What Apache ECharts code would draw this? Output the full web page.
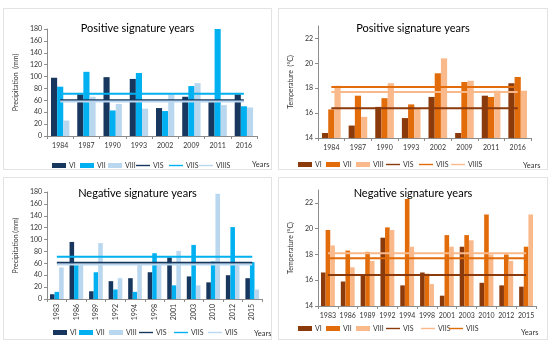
<!DOCTYPE html>
<html><head><meta charset="utf-8">
<script src="https://cdn.jsdelivr.net/npm/echarts@6/dist/echarts.min.js"></script>
<style>
html,body{margin:0;padding:0;background:#fff;width:550px;height:342px;overflow:hidden;}
.p{position:absolute;border:1px solid #e3e3e3;box-sizing:border-box;}
</style></head><body>
<div id="c1" class="p" style="left:3px;top:8px;width:269px;height:162px"></div>
<div id="c2" class="p" style="left:278px;top:8px;width:270px;height:162px"></div>
<div id="c3" class="p" style="left:3px;top:177px;width:269px;height:163px"></div>
<div id="c4" class="p" style="left:278px;top:177px;width:270px;height:163px"></div>
<script>
// ---- Data ----
const posYears = ['1984','1987','1990','1993','2002','2009','2011','2016'];
const negYears = ['1983','1986','1989','1992','1994','1998','2001','2003','2010','2012','2015'];

// Precipitation, positive signature years (mm)
const posPrecVI   = [98, 70, 99, 96, 47, 66, 57, 70];
const posPrecVII  = [83, 108, 43, 106, 42, 84, 180, 50];
const posPrecVIII = [26, 66, 54, 46, 70, 89, 52, 48];
const posPrecMeans = {VIS: 60, VIIS: 71, VIIIS: 58};

// Temperature, positive signature years (°C)
const posTempVI   = [14.4, 15.0, 16.5, 15.6, 17.3, 14.4, 17.4, 18.4];
const posTempVII  = [16.3, 17.4, 17.2, 16.7, 19.2, 18.5, 17.3, 18.9];
const posTempVIII = [18.2, 15.7, 18.4, 16.4, 20.4, 18.6, 17.8, 17.8];
const posTempMeans = {VIS: 16.4, VIIS: 18.1, VIIIS: 17.7};

// Precipitation, negative signature years (mm)
const negPrecVI   = [8, 96, 13, 30, 35, 45, 70, 38, 28, 40, 35];
const negPrecVII  = [12, 57, 45, 16, 12, 77, 23, 91, 63, 121, 62];
const negPrecVIII = [53, 57, 94, 35, 57, 57, 81, 23, 177, 57, 16];
const negPrecMeans = {VIS: 61, VIIS: 71, VIIIS: 58};

// Temperature, negative signature years (°C)
const negTempVI   = [16.6, 15.9, 16.4, 19.3, 15.6, 16.6, 14.8, 18.6, 15.8, 15.6, 15.5];
const negTempVII  = [19.9, 18.3, 18.2, 20.1, 22.3, 16.5, 19.5, 19.5, 21.1, 18.0, 18.6];
const negTempVIII = [18.7, 17.0, 17.5, 19.9, 18.6, 15.7, 18.6, 19.1, 18.0, 17.5, 21.1];
const negTempMeans = {VIS: 16.4, VIIS: 17.7, VIIIS: 18.1};

const blues = ['#17375E', '#00B0F0', '#B9D7EF'];
const oranges = ['#8B3A0C', '#E26B0A', '#F9B98A'];
const FONT = 'Lato, "Liberation Sans", sans-serif';

function build(el, cfg){
  const chart = echarts.init(document.getElementById(el), null, {renderer:'canvas'});
  const c = cfg.colors;
  const fill = v => cfg.cats.map(() => v);
  const barNames = ['VI','VII','VIII'];
  const series = [];
  cfg.bars.forEach((d,i) => series.push({
    name: barNames[i], type:'bar', data:d, barGap:'0%', barCategoryGap:'30%',
    itemStyle:{color:c[i]}, z:2
  }));
  const lineNames = ['VIS','VIIS','VIIIS'];
  lineNames.forEach((nm,i) => series.push({
    name: nm, type:'line', data: fill(cfg.means[nm]), symbol:'none',
    lineStyle:{color:c[i], width:2}, itemStyle:{color:c[i]}, z:5
  }));
  const legendOrder = cfg.legendOrder || ['VI','VII','VIII','VIS','VIIS','VIIIS'];
  const fmt = cfg.legendFmt || (s => s);
  const legends = legendOrder.map((nm, k) => ({
    left: cfg.legendX[k], top: cfg.legendTop, itemWidth:14, itemHeight:5, itemGap:0,
    padding:0,
    data:[nm.endsWith('S') ? {name:nm, icon:'path://M0,4 L20,4 L20,6 L0,6 Z'} : {name:nm, icon:'rect'}],
    formatter: fmt,
    textStyle:{fontSize:7, color:'#333', fontFamily:FONT, padding:[0,0,0,-2]}
  }));
  chart.setOption({
    animation:false,
    textStyle:{fontFamily:FONT},
    title:{text:cfg.title, left:'center', top:cfg.titleTop,
      textStyle:{fontSize:11, fontWeight:'normal', color:'#000', fontFamily:FONT}},
    grid:cfg.grid,
    legend:legends,
    xAxis:{type:'category', data:cfg.cats,
      axisLine:{lineStyle:{color:'#8c8c8c'}},
      axisTick:{show:true, length:3, lineStyle:{color:'#8c8c8c'}},
      axisLabel:{fontSize:7, color:'#333', margin:cfg.labelMargin||6, rotate:cfg.rotate||0, interval:0}},
    yAxis:{type:'value', min:cfg.min, max:cfg.max, interval:cfg.interval,
      name:cfg.yName, nameLocation:'middle', nameGap:cfg.nameGap, nameRotate:90,
      nameTextStyle:{fontSize:7, color:'#333'},
      splitLine:{show:false},
      axisLine:{show:true, lineStyle:{color:'#8c8c8c'}},
      axisTick:{show:true, length:3, lineStyle:{color:'#8c8c8c'}},
      axisLabel:{fontSize:7, color:'#333', margin:5, showMaxLabel: cfg.showMax !== false}},
    graphic:[{type:'text', left:cfg.yearsX, top:cfg.yearsY,
      style:{text:'Years', fontSize:7.5, fill:'#333', fontFamily:FONT}}],
    series
  });
}

build('c1', {
  cats: posYears, bars:[posPrecVI,posPrecVII,posPrecVIII], means: posPrecMeans, colors: blues,
  title:'Positive signature years', titleTop:9,
  grid:{left:34, right:14, top:20, bottom:33},
  min:0, max:180, interval:20, yName:'Precipitation  (mm)', nameGap:24,
  legendX:[48, 76, 104, 132, 165, 195], legendTop:153, yearsX:248, yearsY:152
});
build('c2', {
  cats: posYears, bars:[posTempVI,posTempVII,posTempVIII], means: posTempMeans, colors: oranges,
  title:'Positive signature years', titleTop:9,
  grid:{left:32, right:16, top:17, bottom:31},
  min:14, max:23, interval:2, showMax:false, yName:'Temperature  (°C)', nameGap:21,
  legendX:[19, 47, 77, 107, 140, 172], legendTop:152, yearsX:244, yearsY:153
});
build('c3', {
  cats: negYears, bars:[negPrecVI,negPrecVII,negPrecVIII], means: negPrecMeans, colors: blues,
  title:'Negative signature years', titleTop:5,
  grid:{left:33, right:9, top:14, bottom:40},
  min:0, max:180, interval:20, yName:'Precipitation (mm)', nameGap:24,
  rotate:90, labelMargin:5,
  legendX:[49, 75, 105, 135, 170, 204], legendTop:151, yearsX:250, yearsY:152,
  legendFmt: s => s === 'VIIIS' ? 'VIIS' : s
});
build('c4', {
  cats: negYears, bars:[negTempVI,negTempVII,negTempVIII], means: negTempMeans, colors: oranges,
  title:'Negative signature years', titleTop:5,
  grid:{left:28, right:11, top:12, bottom:33},
  min:14, max:23, interval:2, showMax:false, yName:'Temperature (°C)', nameGap:20,
  legendX:[19, 47, 77, 107, 142, 170], legendTop:147, yearsX:242, yearsY:151,
  legendOrder:['VI','VII','VIII','VIS','VIIIS','VIIS'],
  legendFmt: s => s === 'VIIIS' ? 'VIIS' : s
});
</script>
</body></html>
